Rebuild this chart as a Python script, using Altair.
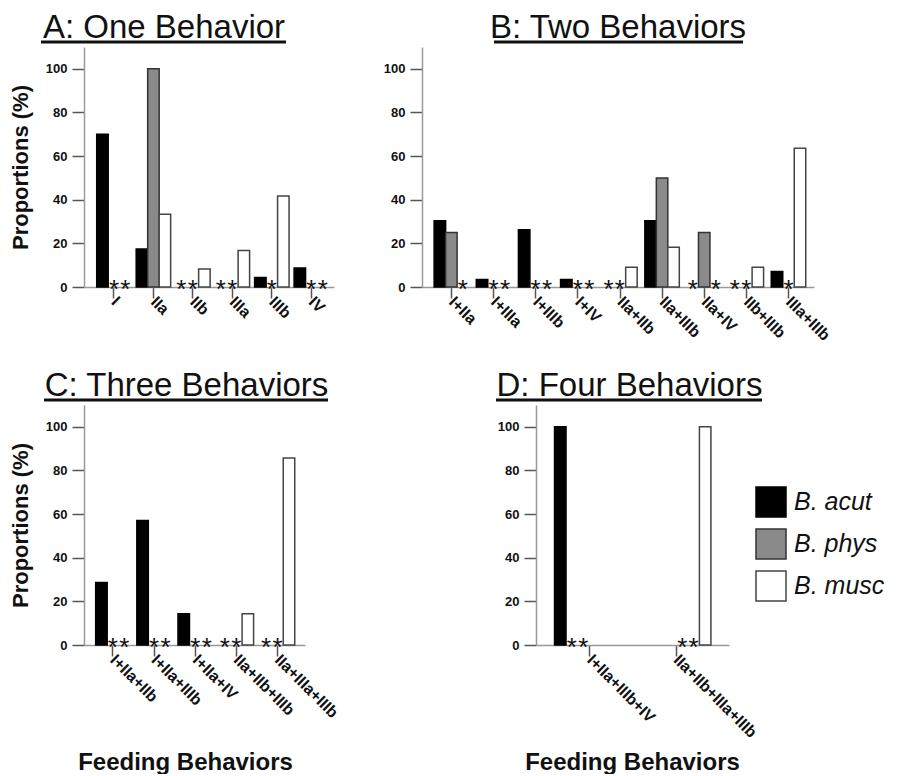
import altair as alt
import pandas as pd

FONT = "Liberation Sans"

species = ["B. acut", "B. phys", "B. musc"]
fill_colors = ["#000000", "#8a8a8a", "#ffffff"]
stroke_colors = ["#000000", "#333333", "#444444"]
y_ticks = [0, 20, 40, 60, 80, 100]

# Panel A: One Behavior
a_cats = ["I", "IIa", "IIb", "IIIa", "IIIb", "IV"]
a_acut = [70.0, 17.4, 0, 0, 4.3, 8.7]
a_phys = [0, 100.0, 0, 0, 0, 0]
a_musc = [0, 33.3, 8.3, 16.7, 41.7, 0]

# Panel B: Two Behaviors
b_cats = ["I+IIa", "I+IIIa", "I+IIIb", "I+IV", "IIa+IIb", "IIa+IIIb", "IIa+IV", "IIb+IIIb", "IIIa+IIIb"]
b_acut = [30.4, 3.4, 26.2, 3.4, 0, 30.4, 0, 0, 7.1]
b_phys = [25.0, 0, 0, 0, 0, 50.0, 25.0, 0, 0]
b_musc = [0, 0, 0, 0, 9.1, 18.2, 0, 9.1, 63.6]

# Panel C: Three Behaviors
c_cats = ["I+IIa+IIb", "I+IIa+IIIb", "I+IIa+IV", "IIa+IIb+IIIb", "IIa+IIIa+IIIb"]
c_acut = [28.6, 57.1, 14.3, 0, 0]
c_phys = [0, 0, 0, 0, 0]
c_musc = [0, 0, 0, 14.3, 85.7]

# Panel D: Four Behaviors
d_cats = ["I+IIa+IIIb+IV", "IIa+IIb+IIIa+IIIb"]
d_acut = [100.0, 0]
d_phys = [0, 0]
d_musc = [0, 100.0]


def to_long(cats, acut, phys, musc):
    rows = []
    for i, c in enumerate(cats):
        for sp, vals in zip(species, (acut, phys, musc)):
            rows.append({"cat": c, "species": sp, "value": vals[i]})
    return pd.DataFrame(rows)


legend = alt.Legend(
    orient="none", legendX=671, legendY=439, title=None,
    symbolType="square", symbolSize=900, symbolStrokeColor="#333333",
    symbolStrokeWidth=1.5, labelFont=FONT, labelFontSize=25,
    labelFontStyle="italic", labelColor="#111111", labelOffset=7,
    rowPadding=6, labelLimit=400, padding=0,
)


def y_axis(title):
    kw = dict(values=y_ticks, grid=False, domainColor="#9a9a9a", domainWidth=1.5,
              tickColor="#555555", tickWidth=1.5, tickSize=12, labelFont=FONT,
              labelFontSize=13, labelFontWeight="bold", labelColor="#111111",
              labelPadding=5)
    if title:
        kw.update(title=title, titleFont=FONT, titleFontSize=22, titleFontWeight="bold",
                  titleColor="#111111", titlePadding=13)
    else:
        kw.update(title=None)
    return alt.Axis(**kw)


def x_axis(title, title_x=None):
    kw = dict(orient="bottom", labelAngle=45, labelAlign="left", labelBaseline="middle",
              tickSize=11, tickColor="#555555", tickWidth=1.5, domainColor="#9a9a9a",
              domainWidth=1.5, labelFont=FONT, labelFontSize=16, labelFontWeight="bold",
              labelColor="#111111", labelPadding=1, labelLimit=400)
    if title:
        kw.update(title=title, titleFont=FONT, titleFontSize=24, titleFontWeight="bold",
                  titleColor="#111111", titleY=105, titleBaseline="top",
                  titleX=title_x, titleAlign="center")
    else:
        kw.update(title=None)
    return alt.Axis(**kw)


def panel(cats, acut, phys, musc, width, xscale, title_text, title_dx, ytitle, xtitle,
          ul, xtitle_x=0, tick_padding=None):
    df = to_long(cats, acut, phys, musc)
    base = alt.Chart(df)
    x_enc = alt.X("cat:N", sort=cats, scale=alt.Scale(**xscale),
                  axis=(x_axis(xtitle, xtitle_x) if tick_padding is None else None))
    xo = alt.XOffset("species:N", sort=species,
                     scale=alt.Scale(domain=species, paddingInner=0, paddingOuter=0))
    bars = base.transform_filter("datum.value > 0").mark_bar(strokeWidth=1.5).encode(
        x=x_enc,
        xOffset=xo,
        y=alt.Y("value:Q", scale=alt.Scale(domain=[0, 110], nice=False), axis=y_axis(ytitle)),
        color=alt.Color("species:N", scale=alt.Scale(domain=species, range=fill_colors),
                        legend=legend),
        stroke=alt.Stroke("species:N", scale=alt.Scale(domain=species, range=stroke_colors),
                          legend=None),
    )
    stars = base.transform_filter("datum.value == 0").mark_text(
        text="*", font=FONT, fontSize=26, baseline="alphabetic", dy=11, color="#111111"
    ).encode(x=x_enc, xOffset=xo, y=alt.Y("value:Q"))
    underline = alt.Chart(pd.DataFrame({"u": [0]})).mark_rule(
        strokeWidth=3, color="#111111"
    ).encode(x=alt.value(ul[0]), x2=alt.value(ul[1]), y=alt.value(-5))
    inner = alt.layer(bars, stars, underline)
    if tick_padding is not None:
        ticks = alt.Chart(pd.DataFrame({"cat": cats})).mark_point(opacity=0).encode(
            x=alt.X("cat:N", sort=cats,
                    scale=alt.Scale(type="point", padding=tick_padding),
                    axis=x_axis(xtitle, xtitle_x))
        )
        chart = alt.layer(inner, ticks).resolve_scale(x="independent")
    else:
        chart = inner
    return chart.properties(
        width=width, height=240,
        title=alt.TitleParams(title_text, font=FONT, fontSize=33, fontWeight="normal",
                              color="#111111", anchor="middle", frame="group",
                              dx=title_dx, offset=-4),
    )


A = panel(a_cats, a_acut, a_phys, a_musc, 250,
          dict(paddingInner=0.127, paddingOuter=0.23, align=0.7),
          "A: One Behavior", -45, "Proportions (%)", None, (-43, 202))
B = panel(b_cats, b_acut, b_phys, b_musc, 392,
          dict(paddingInner=0.178, paddingOuter=0.24, align=0.6),
          "B: Two Behaviors", 0, None, None, (72, 321))
C = panel(c_cats, c_acut, c_phys, c_musc, 221,
          dict(paddingInner=0.165, paddingOuter=0.268, align=0.53),
          "C: Three Behaviors", -8, "Proportions (%)", "Feeding Behaviors", (-40, 244),
          xtitle_x=101)
D = panel(d_cats, d_acut, d_phys, d_musc, 193,
          dict(paddingInner=0.721, paddingOuter=0.152),
          "D: Four Behaviors", -3, None, "Feeding Behaviors", (-40, 226),
          xtitle_x=96, tick_padding=0.616)

chart = alt.vconcat(
    alt.hconcat(A, B, spacing=49),
    alt.hconcat(C, D, spacing=153),
    spacing=25,
).resolve_scale(color="shared", stroke="shared").properties(
    padding={"left": 1, "top": 3, "right": 0, "bottom": 0}
).configure_view(stroke=None)

chart.save("out.html", embed_options={"renderer": "svg", "actions": False})
